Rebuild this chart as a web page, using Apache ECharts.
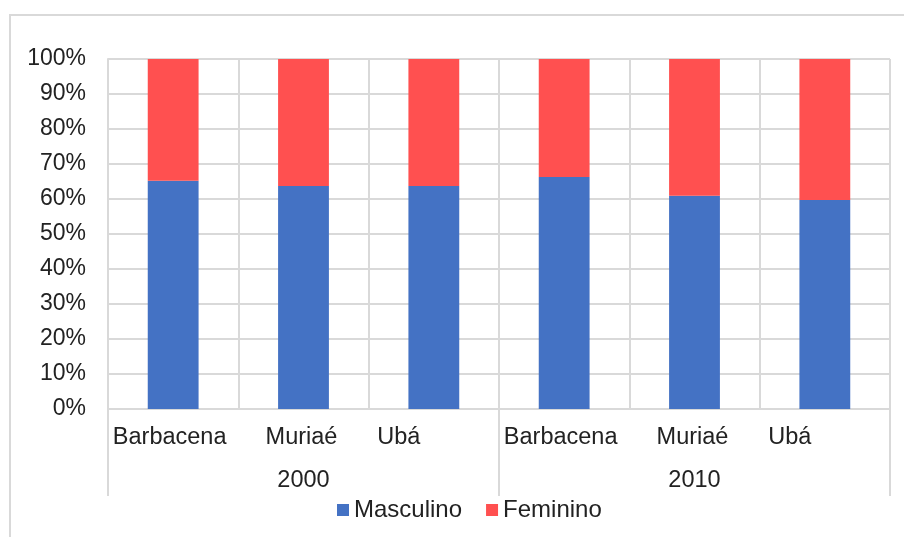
<!DOCTYPE html>
<html>
<head>
<meta charset="utf-8">
<script src="https://cdn.jsdelivr.net/npm/echarts@6/dist/echarts.min.js"></script>
<style>
  html, body { margin: 0; padding: 0; background: #fff; }
  #chart { width: 904px; height: 537px; }
</style>
</head>
<body>
<div id="chart"></div>
<script>
// data
const cities = ['Barbacena', 'Muriaé', 'Ubá', 'Barbacena', 'Muriaé', 'Ubá']
const years = ['2000', '2010']
const masculino = [65.2, 63.7, 63.7, 66.3, 60.9, 59.7]
const feminino = [34.8, 36.3, 36.3, 33.7, 39.1, 40.3]
const yTicks = [0, 10, 20, 30, 40, 50, 60, 70, 80, 90, 100]

const font = "'Liberation Sans', Arial, sans-serif"
const gridColor = '#d9d9d9'
const textColor = '#222'

// excel puts the city labels a bit left of the category centre
const labelStyle = ['b', 'm', 'u', 'b', 'm', 'u']

const chart = echarts.init(document.getElementById('chart'), null, { renderer: 'canvas' })

chart.setOption({
  animation: false,
  textStyle: { fontFamily: font },
  graphic: [{
    type: 'rect',
    silent: true,
    shape: { x: 10, y: 15, width: 1000, height: 1000 },
    style: { fill: 'none', stroke: gridColor, lineWidth: 2 },
  }],
  grid: { left: 108, top: 59, right: 14, bottom: 128, containLabel: false },
  legend: {
    top: 498,
    left: 337,
    padding: 0,
    icon: 'rect',
    itemWidth: 12,
    itemHeight: 12,
    itemGap: 24,
    textStyle: { fontSize: 24, color: textColor, fontFamily: font },
    data: ['Masculino', 'Feminino'],
  },
  xAxis: [{
    type: 'category',
    data: cities,
    position: 'bottom',
    axisLine: { show: true, lineStyle: { color: gridColor, width: 2 } },
    axisTick: { show: false },
    splitLine: { show: true, interval: 0, lineStyle: { color: gridColor, width: 2 } },
    axisLabel: {
      interval: 0,
      margin: 17,
      fontSize: 23.5,
      color: textColor,
      fontFamily: font,
      formatter: function (v, i) {
        return '{' + labelStyle[i] + '|' + v + '}'
      },
      rich: {
        b: { fontSize: 23.5, color: textColor, fontFamily: font, padding: [0, 7, 0, 0] },
        m: { fontSize: 23.5, color: textColor, fontFamily: font, padding: [0, 4, 0, 0] },
        u: { fontSize: 23.5, color: textColor, fontFamily: font, padding: [0, 70, 0, 0] },
      },
    },
  }, {
    type: 'category',
    data: years,
    position: 'bottom',
    axisLine: { show: false },
    axisTick: { show: true, interval: 0, length: 87, lineStyle: { color: gridColor, width: 2 } },
    splitLine: { show: false },
    axisLabel: { interval: 0, margin: 60, fontSize: 23.5, color: textColor, fontFamily: font },
  }],
  yAxis: {
    type: 'value',
    min: 0,
    max: 100,
    interval: 10,
    axisLine: { show: true, lineStyle: { color: gridColor, width: 2 } },
    axisTick: { show: false },
    splitLine: { show: true, lineStyle: { color: gridColor, width: 2 } },
    axisLabel: {
      margin: 22,
      fontSize: 23,
      color: textColor,
      fontFamily: font,
      formatter: function (v) { return yTicks.indexOf(v) >= 0 ? v + '%' : '' },
    },
  },
  series: [{
    name: 'Masculino',
    type: 'bar',
    stack: 'total',
    barWidth: '39%',
    itemStyle: { color: '#4472C4' },
    data: masculino,
  }, {
    name: 'Feminino',
    type: 'bar',
    stack: 'total',
    barWidth: '39%',
    itemStyle: { color: '#FF5050' },
    data: feminino,
  }],
})
</script>
</body>
</html>
